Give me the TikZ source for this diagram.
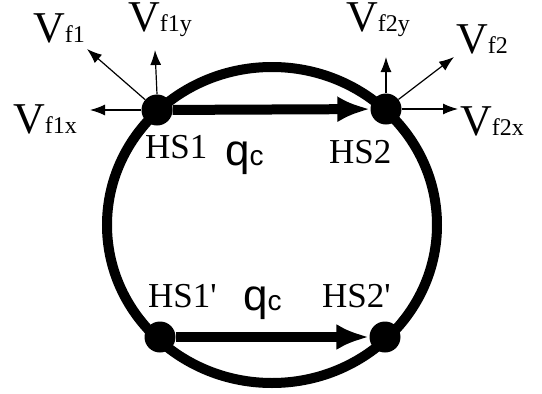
\documentclass[tikz,border=0pt]{standalone}
\usepackage{fontspec}
\setmainfont{Liberation Serif}
\newfontfamily\qfont{Liberation Sans}
\usepackage{tikz}
\usetikzlibrary{arrows.meta,positioning}

\newcommand{\vel}[1]{{\fontsize{44}{44}\selectfont V}{\fontsize{24}{24}\selectfont #1}}
\newcommand{\qc}{{\qfont\fontsize{44}{44}\selectfont q}{\qfont\fontsize{28}{28}\selectfont c}}

\begin{document}
\begin{tikzpicture}[x=1pt, y=-1pt,
	hs/.style={circle, fill=black, minimum size=31pt, inner sep=0pt},
	lab/.style={anchor=base west, inner sep=0pt},
	vlab/.style={lab, text height=30pt},
	hslab/.style={lab, font=\fontsize{35}{35}\selectfont},
	flow/.style={-{Latex[length=33pt, width=26pt]}, line width=10pt},
	vec/.style={-{Latex[length=15pt, width=11pt]}, line width=1.2pt}
]
	\useasboundingbox (0,0) rectangle (542,394);

	% Loop
	\draw[line width=10pt] (272,225) ellipse [x radius=165pt, y radius=158pt];

	% Hot spots
	\node[hs] (hs1)  at (157,110) {};
	\node[hs] (hs2)  at (386,109) {};
	\node[hs] (hs1p) at (160,337) {};
	\node[hs] (hs2p) at (385,337) {};

	% Heat flow
	\draw[flow] (hs1) -- (hs2);
	\draw[flow] (hs1p) -- (hs2p);

	\node[hslab] (l1)  at (145,158) {HS1};
	\node[hslab] (l2)  at (329,163) {HS2};
	\node[hslab] (l1p) at (148,307) {HS1\textquotesingle};
	\node[hslab] (l2p) at (322,307) {HS2\textquotesingle};
	\node[lab] (q1) at (225,165) {\qc};
	\node[lab] (q2) at (243,310) {\qc};

	% Velocity vectors
	\coordinate (t1)  at (87,49);
	\coordinate (t1y) at (155,50);
	\coordinate (t1x) at (90,110);
	\coordinate (t2y) at (386,57);
	\coordinate (t2)  at (454,57);
	\coordinate (t2x) at (458,109);

	\draw[vec] (hs1) -- (t1);
	\draw[vec] (hs1.north) -- (t1y);
	\draw[vec] (hs1) -- (t1x);
	\draw[vec] (hs2.north) -- (t2y);
	\draw[vec] (hs2) -- (t2);
	\draw[vec] (hs2) -- (t2x);

	\node[vlab] (v1)  at (33,42)   {\vel{f1}};
	\node[vlab] (v1y) at (128,31)  {\vel{f1y}};
	\node[vlab] (v1x) at (13,133)  {\vel{f1x}};
	\node[vlab] (v2y) at (346,31)  {\vel{f2y}};
	\node[vlab] (v2)  at (456,53)  {\vel{f2}};
	\node[vlab] (v2x) at (460,135) {\vel{f2x}};
\end{tikzpicture}
\end{document}
